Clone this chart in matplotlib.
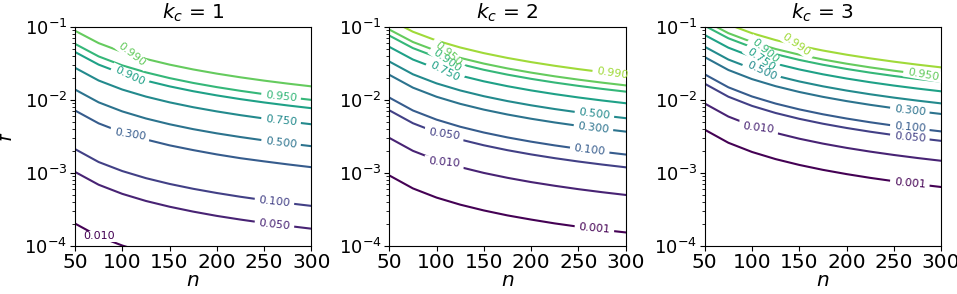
import matplotlib.pyplot as plt
import numpy as np

n_vals = [50, 75, 100, 125, 150, 175, 200, 225, 250, 275, 300]

# k_c = 1
kc1_levels = ['0.010', '0.050', '0.100', '0.300', '0.500', '0.750', '0.900', '0.950', '0.990']
kc1_lines = [
    [2.01e-4, 1.34e-4, 1.005e-4, 8.04e-5, 6.70e-5, 5.74e-5, 5.03e-5, 4.47e-5, 4.02e-5, 3.65e-5, 3.35e-5],
    [1.025e-3, 6.84e-4, 5.13e-4, 4.10e-4, 3.42e-4, 2.93e-4, 2.56e-4, 2.28e-4, 2.05e-4, 1.87e-4, 1.71e-4],
    [2.105e-3, 1.40e-3, 1.053e-3, 8.42e-4, 7.02e-4, 6.02e-4, 5.27e-4, 4.68e-4, 4.21e-4, 3.83e-4, 3.51e-4],
    [7.11e-3, 4.74e-3, 3.56e-3, 2.85e-3, 2.37e-3, 2.04e-3, 1.78e-3, 1.58e-3, 1.43e-3, 1.30e-3, 1.19e-3],
    [1.377e-2, 9.20e-3, 6.91e-3, 5.53e-3, 4.61e-3, 3.95e-3, 3.46e-3, 3.08e-3, 2.77e-3, 2.52e-3, 2.31e-3],
    [2.735e-2, 1.831e-2, 1.377e-2, 1.103e-2, 9.20e-3, 7.89e-3, 6.91e-3, 6.14e-3, 5.53e-3, 5.03e-3, 4.61e-3],
    [4.501e-2, 3.023e-2, 2.276e-2, 1.825e-2, 1.523e-2, 1.307e-2, 1.145e-2, 1.018e-2, 9.17e-3, 8.34e-3, 7.65e-3],
    [5.816e-2, 3.916e-2, 2.951e-2, 2.368e-2, 1.977e-2, 1.697e-2, 1.487e-2, 1.323e-2, 1.191e-2, 1.083e-2, 9.94e-3],
    [8.799e-2, 5.955e-2, 4.501e-2, 3.617e-2, 3.023e-2, 2.597e-2, 2.276e-2, 2.026e-2, 1.825e-2, 1.661e-2, 1.523e-2],
]

# k_c = 2
kc2_levels = ['0.001', '0.010', '0.050', '0.100', '0.300', '0.500', '0.750', '0.900', '0.950', '0.990']
kc2_lines = [
    [9.17e-4, 6.09e-4, 4.56e-4, 3.65e-4, 3.04e-4, 2.60e-4, 2.28e-4, 2.02e-4, 1.82e-4, 1.65e-4, 1.52e-4],
    [2.997e-3, 1.992e-3, 1.492e-3, 1.193e-3, 9.93e-4, 8.51e-4, 7.44e-4, 6.62e-4, 5.95e-4, 5.41e-4, 4.96e-4],
    [7.153e-3, 4.759e-3, 3.565e-3, 2.850e-3, 2.374e-3, 2.034e-3, 1.780e-3, 1.582e-3, 1.423e-3, 1.294e-3, 1.186e-3],
    [1.0686e-2, 7.113e-3, 5.331e-3, 4.262e-3, 3.551e-3, 3.043e-3, 2.662e-3, 2.366e-3, 2.129e-3, 1.936e-3, 1.774e-3],
    [2.1924e-2, 1.4621e-2, 1.0967e-2, 8.775e-3, 7.313e-3, 6.268e-3, 5.485e-3, 4.876e-3, 4.388e-3, 3.990e-3, 3.657e-3],
    [3.3337e-2, 2.2275e-2, 1.6726e-2, 1.3390e-2, 1.1163e-2, 9.572e-3, 8.377e-3, 7.448e-3, 6.704e-3, 6.095e-3, 5.588e-3],
    [5.2943e-2, 3.5498e-2, 2.6698e-2, 2.1395e-2, 1.7850e-2, 1.5312e-2, 1.3406e-2, 1.1922e-2, 1.0734e-2, 9.761e-3, 8.950e-3],
    [7.5572e-2, 5.0872e-2, 3.8339e-2, 3.0760e-2, 2.5682e-2, 2.2044e-2, 1.9308e-2, 1.7177e-2, 1.5469e-2, 1.4070e-2, 1.2903e-2],
    [9.1387e-2, 6.1692e-2, 4.6558e-2, 3.7387e-2, 3.1234e-2, 2.6820e-2, 2.3498e-2, 2.0909e-2, 1.8834e-2, 1.7134e-2, 1.5714e-2],
    [1.2551e-1, 8.5252e-2, 6.4541e-2, 5.1924e-2, 4.3432e-2, 3.7328e-2, 3.2728e-2, 2.9137e-2, 2.6256e-2, 2.3894e-2, 2.1921e-2],
]

# k_c = 3
kc3_levels = ['0.001', '0.010', '0.050', '0.100', '0.300', '0.500', '0.750', '0.900', '0.950', '0.990']
kc3_lines = [
    [3.881e-3, 2.571e-3, 1.923e-3, 1.535e-3, 1.278e-3, 1.094e-3, 9.57e-4, 8.50e-4, 7.65e-4, 6.95e-4, 6.37e-4],
    [8.860e-3, 5.875e-3, 4.395e-3, 3.510e-3, 2.922e-3, 2.503e-3, 2.189e-3, 1.945e-3, 1.750e-3, 1.590e-3, 1.457e-3],
    [1.6550e-2, 1.0989e-2, 8.226e-3, 6.573e-3, 5.473e-3, 4.688e-3, 4.101e-3, 3.644e-3, 3.279e-3, 2.980e-3, 2.731e-3],
    [2.2241e-2, 1.4783e-2, 1.1070e-2, 8.848e-3, 7.369e-3, 6.314e-3, 5.523e-3, 4.908e-3, 4.416e-3, 4.014e-3, 3.679e-3],
    [3.8304e-2, 2.5531e-2, 1.9145e-2, 1.5316e-2, 1.2762e-2, 1.0939e-2, 9.571e-3, 8.507e-3, 7.656e-3, 6.960e-3, 6.380e-3],
    [5.3111e-2, 3.5491e-2, 2.6649e-2, 2.1334e-2, 1.7787e-2, 1.5251e-2, 1.3348e-2, 1.1867e-2, 1.0682e-2, 9.712e-3, 8.904e-3],
    [7.6891e-2, 5.1599e-2, 3.8826e-2, 3.1121e-2, 2.5968e-2, 2.2279e-2, 1.9508e-2, 1.7350e-2, 1.5622e-2, 1.4206e-2, 1.3026e-2],
    [1.02927e-1, 6.9398e-2, 5.2341e-2, 4.2014e-2, 3.5090e-2, 3.0125e-2, 2.6391e-2, 2.3480e-2, 2.1148e-2, 1.9237e-2, 1.7643e-2],
    [1.20575e-1, 8.1560e-2, 6.1614e-2, 4.9506e-2, 4.1374e-2, 3.5536e-2, 3.1142e-2, 2.7715e-2, 2.4967e-2, 2.2715e-2, 2.0836e-2],
    [1.5764e-1, 1.07381e-1, 8.1404e-2, 6.5544e-2, 5.4854e-2, 4.7162e-2, 4.1362e-2, 3.6832e-2, 3.3196e-2, 3.0213e-2, 2.7723e-2],
]

titles = [r'$k_c$ = 1', r'$k_c$ = 2', r'$k_c$ = 3']

# where the inline labels sit (n) and how they are tilted
kc1_label_n = [75, 261, 261, 108, 268, 268, 108, 268, 110]
kc1_label_rot = [0, -6, -6, -9, -7, -6, -25, -6, -38]
kc2_label_n = [267, 108, 108, 262, 266, 267, 109, 111, 112, 286]
kc2_label_rot = [-5, -5, -8, -7, -7, -7, -27, -35, -40, -8]
kc3_label_n = [267, 107, 267, 267, 267, 110, 110, 114, 281, 147]
kc3_label_rot = [-5, -7, -5, -5, -6, -25, -35, -40, -10, -35]

panels = [
    (kc1_levels, kc1_lines, kc1_label_n, kc1_label_rot),
    (kc2_levels, kc2_lines, kc2_label_n, kc2_label_rot),
    (kc3_levels, kc3_lines, kc3_label_n, kc3_label_rot),
]

fig = plt.figure(figsize=(9.57, 2.94), dpi=100)
lefts = [0.0784, 0.4068, 0.7364]

for p, (levels, lines, lab_n, lab_rot) in enumerate(panels):
    ax = fig.add_axes([lefts[p], 0.1643, 0.2469, 0.7449])
    ax.set_yscale('log')

    for i, (lev, f) in enumerate(zip(levels, lines)):
        c = plt.cm.viridis(i / 10.5)
        ax.plot(n_vals, f, color=c, lw=1.5, zorder=2)
        # label placed on the line, with a white gap behind it
        x0 = lab_n[i]
        y0 = 10 ** np.interp(x0, n_vals, np.log10(f))
        ax.text(x0, y0, ' ' + lev + ' ', color='none', fontsize=8,
                rotation=lab_rot[i], rotation_mode='anchor',
                ha='center', va='center', zorder=3, clip_on=True,
                bbox=dict(boxstyle='square,pad=0.05', fc='white', ec='none'))
        ax.text(x0, y0, lev, color=c, fontsize=8,
                rotation=lab_rot[i], rotation_mode='anchor',
                ha='center', va='center', zorder=4)

    ax.set_xlim(50, 300)
    ax.set_ylim(1e-4, 1e-1)
    ax.set_xticks([50, 100, 150, 200, 250, 300])
    ax.tick_params(axis='x', labelsize=14.5, pad=2)
    ax.tick_params(axis='y', labelsize=13, pad=2)
    ax.set_title(titles[p], fontsize=14.5, pad=6)
    ax.set_xlabel('$n$', fontsize=14.5, labelpad=-1)
    if p == 0:
        ax.set_ylabel('$f$', fontsize=14.5)
        ax.yaxis.set_label_coords(-0.25, 0.5)

fig.savefig('out.png', dpi=100)
